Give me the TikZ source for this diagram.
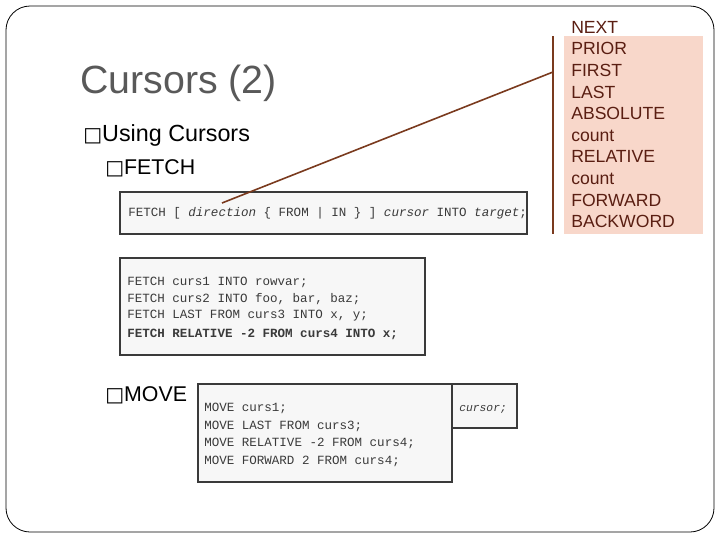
\documentclass[tikz,border=0pt]{standalone}
\usepackage{fontspec}
\setmainfont{Liberation Sans}
\newfontfamily\mono{Liberation Mono}
\newfontfamily\dv{DejaVu Sans}
\definecolor{brn}{HTML}{7A3A1E}
\definecolor{txtbrn}{HTML}{5A1E12}
\definecolor{pink}{HTML}{F8D7CA}
\definecolor{codec}{HTML}{3A3A3A}
\begin{document}
\begin{tikzpicture}[x=0.75pt,y=-0.75pt,
  code/.style={draw=codec,fill=black!3,line width=0.8pt},
  ct/.style={anchor=west,inner sep=0,font=\mono\fontsize{9.4}{11}\selectfont,text=codec},
  bul/.style={anchor=west,inner sep=0}]
\useasboundingbox (0,0) rectangle (720,540);
\draw[line width=0.6pt,rounded corners=18] (6,6) rectangle (714,532);
\node[anchor=west,inner sep=0,text=black!65,font=\fontsize{29.5}{34}\selectfont] (title) at (80,83) {Cursors (2)};
\node[bul,font=\fontsize{17.5}{20}\selectfont] (b1) at (83,135) {{\dv\fontsize{15}{18}\selectfont□}Using Cursors};
\node[bul,font=\fontsize{16}{18}\selectfont] (b2) at (105,168) {{\dv\fontsize{15}{18}\selectfont□}FETCH};
\node[bul,font=\fontsize{16}{18}\selectfont] (b3) at (105,395) {{\dv\fontsize{15}{18}\selectfont□}MOVE};
% code boxes
\draw[code] (120,192) rectangle (527,234);
\node[ct] (c1) at (128,213) {FETCH [ \textit{direction} \{ FROM | IN \} ] \textit{cursor} INTO \textit{target};};
\draw[code] (120,258) rectangle (425,355);
\node[ct] at (127,282) {FETCH curs1 INTO rowvar;};
\node[ct] at (127,299) {FETCH curs2 INTO foo, bar, baz;};
\node[ct] at (127,316) {FETCH LAST FROM curs3 INTO x, y;};
\node[ct] at (127,334) {\textbf{FETCH RELATIVE -2 FROM curs4 INTO x;}};
\draw[code] (452,384) rectangle (517,428);
\node[ct,font=\mono\itshape\fontsize{8.5}{10}\selectfont] at (459,409) {cursor;};
\draw[code] (198,384) rectangle (452,482);
\node[ct] at (204,408) {MOVE curs1;};
\node[ct] at (204,426) {MOVE LAST FROM curs3;};
\node[ct] at (204,443) {MOVE RELATIVE -2 FROM curs4;};
\node[ct] at (204,461) {MOVE FORWARD 2 FROM curs4;};
% callout
\fill[pink] (564,36) rectangle (703,234);
\draw[brn,line width=1.2pt] (553,36) -- (553,234);
\coordinate (cs) at (222,203);
\coordinate (ce) at (553,72);
\draw[brn,line width=1.2pt] (cs) -- (ce);
\node[anchor=north west,inner sep=0,align=left,text=txtbrn,font=\fontsize{13.2}{16.2}\selectfont] (list) at (571,21)
 {NEXT\\PRIOR\\FIRST\\LAST\\ABSOLUTE\\count\\RELATIVE\\count\\FORWARD\\BACKWORD};
\end{tikzpicture}
\end{document}
